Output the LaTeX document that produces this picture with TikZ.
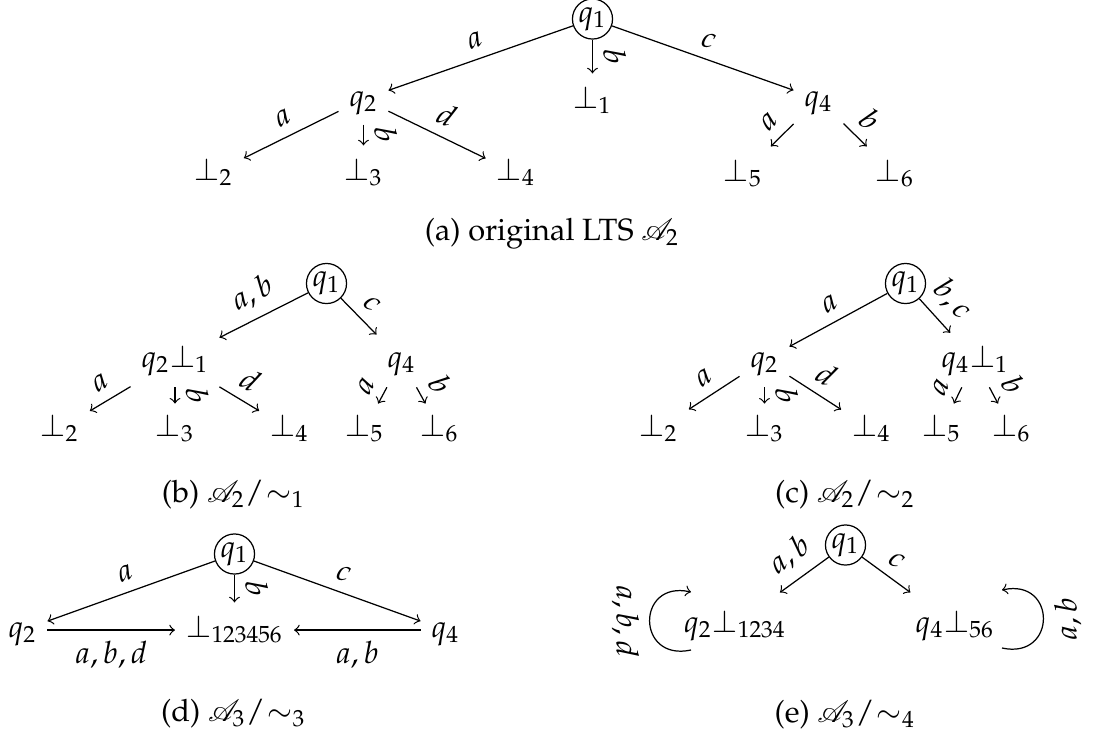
\documentclass[tikz,border=0pt]{standalone}
\usepackage[T1]{fontenc}
\usepackage{mathpazo}
\usepackage{mathrsfs}
\usetikzlibrary{calc}
\newcommand{\quotsim}[1]{/\mkern1mu{\sim_{#1}}}
\begin{document}
\begin{tikzpicture}[x=0.3252pt,y=-0.3252pt,
  init/.style={draw,circle,inner sep=0.4pt},
  arr/.style={->,>=to},
  lbl/.style={midway,above,sloped},
  lblb/.style={midway,below,sloped},
  vlbl/.style={midway,above,sloped,allow upside down},
  tnode/.style={anchor=base,text height=7pt,text depth=2.5pt},
  qa/.style={tnode,minimum height=15.4pt},
  ba/.style={tnode,minimum height=17.6pt},
  nb/.style={tnode,minimum height=17.3pt},
  bb/.style={tnode,minimum height=14.4pt},
  nd/.style={tnode,minimum height=17.6pt},
  nee/.style={tnode,minimum height=20.8pt},
  captxt/.style={anchor=base,inner sep=0pt}
]
\useasboundingbox (0,0) rectangle (1102,733);

% (a)
\node[init] (a1) at (592.5,19) {$q_1$};
\node[qa] (a2) at (363.5,106) {$q_2$};
\node[qa] (a4) at (818.5,106) {$q_4$};
\node[ba] (ab1) at (592.5,108) {$\bot_1$};
\node[ba] (ab2) at (213.5,180) {$\bot_2$};
\node[ba] (ab3) at (363.5,180) {$\bot_3$};
\node[ba] (ab4) at (516,180) {$\bot_4$};
\node[ba] (ab5) at (743,181) {$\bot_5$};
\node[ba] (ab6) at (895,181) {$\bot_6$};
\draw[arr] (a1) -- node[lbl]{$a$} (a2);
\draw[arr] (a1) -- node[vlbl]{$b$} (ab1);
\draw[arr] (a1) -- node[lbl]{$c$} (a4);
\draw[arr] (a2) -- node[lbl]{$a$} (ab2);
\draw[arr] (a2) -- node[vlbl]{$b$} (ab3);
\draw[arr] (a2) -- node[lbl]{$d$} (ab4);
\draw[arr] (a4) -- node[lbl]{$a$} (ab5);
\draw[arr] (a4) -- node[lbl]{$b$} (ab6);
\node[captxt] (ca) at (552,240) {(a) original LTS $\mathscr{A}_2$};

% (b)
\node[init] (b1) at (326.5,283.5) {$q_1$};
\node[nb] (b2) at (175,367) {$q_2\bot_1$};
\node[nb] (b4) at (401.5,367) {$q_4$};
\node[bb] (bb2) at (59.5,436) {$\bot_2$};
\node[bb] (bb3) at (175,436) {$\bot_3$};
\node[bb] (bb4) at (289.5,436) {$\bot_4$};
\node[bb] (bb5) at (364.5,436) {$\bot_5$};
\node[bb] (bb6) at (439.5,436) {$\bot_6$};
\draw[arr] (b1) -- node[lbl]{$a,b$} (b2);
\draw[arr] (b1) -- node[lbl]{$c$} (b4);
\draw[arr] (b2) -- node[lbl]{$a$} (bb2);
\draw[arr] (b2) -- node[vlbl]{$b$} (bb3);
\draw[arr] (b2) -- node[lbl]{$d$} (bb4);
\draw[arr] (b4) -- node[lbl]{$a$} (bb5);
\draw[arr] (b4) -- node[lbl]{$b$} (bb6);
\node[captxt] (cb) at (233.5,502) {(b) $\mathscr{A}_2\quotsim{1}$};

% (c)
\node[init] (c1) at (905.5,283.5) {$q_1$};
\node[nb] (c2) at (764.5,367) {$q_2$};
\node[nb] (c4) at (975,367) {$q_4\bot_1$};
\node[bb] (cb2) at (658.5,436) {$\bot_2$};
\node[bb] (cb3) at (764.5,436) {$\bot_3$};
\node[bb] (cb4) at (871.5,436) {$\bot_4$};
\node[bb] (cb5) at (941.5,436) {$\bot_5$};
\node[bb] (cb6) at (1011.5,436) {$\bot_6$};
\draw[arr] (c1) -- node[lbl]{$a$} (c2);
\draw[arr] (c1) -- node[lbl]{$b,c$} (c4);
\draw[arr] (c2) -- node[lbl]{$a$} (cb2);
\draw[arr] (c2) -- node[vlbl]{$b$} (cb3);
\draw[arr] (c2) -- node[lbl]{$d$} (cb4);
\draw[arr] (c4) -- node[lbl]{$a$} (cb5);
\draw[arr] (c4) -- node[lbl]{$b$} (cb6);
\node[captxt] (cc) at (845,502) {(c) $\mathscr{A}_2\quotsim{2}$};

% (d)
\node[init] (d1) at (234.5,554) {$q_1$};
\node[nd] (d2) at (22.5,637) {$q_2$};
\node[nd] (db) at (234.5,637) {$\bot_{123456}$};
\node[nd] (d4) at (445.5,637) {$q_4$};
\draw[arr] (d1) -- node[lbl]{$a$} (d2);
\draw[arr] (d1) -- node[vlbl]{$b$} (db);
\draw[arr] (d1) -- node[lbl]{$c$} (d4);
\draw[arr] (d2) -- node[lblb]{$a,b,d$} (db);
\draw[arr] (d4) -- node[lblb]{$a,b$} (db);
\node[captxt] (cd) at (233.5,721) {(d) $\mathscr{A}_3\quotsim{3}$};

% (e)
\node[init] (e1) at (845.5,545) {$q_1$};
\node[nee] (eL) at (735,632) {$q_2\bot_{1234}$};
\node[nee] (eR) at (955,632) {$q_4\bot_{56}$};
\draw[arr] (e1) -- node[lbl]{$a,b$} (eL);
\draw[arr] (e1) -- node[lbl]{$c$} (eR);
\coordinate (ls) at ($(eL.base)+(-44,18)$);
\coordinate (le) at ($(eL.base)+(-44,-40)$);
\coordinate (rs) at ($(eR.base)+(47,16)$);
\coordinate (re) at ($(eR.base)+(47,-42)$);
\draw[arr] (ls) .. controls +(-55,12) and +(-55,-12) .. node[pos=0.5,rotate=-90,anchor=north]{$a,b,d$} (le);
\draw[arr] (rs) .. controls +(55,12) and +(55,-12) .. node[pos=0.5,rotate=90,anchor=north]{$a,b$} (re);
\node[captxt] (ce) at (845,722) {(e) $\mathscr{A}_3\quotsim{4}$};
\end{tikzpicture}
\end{document}
